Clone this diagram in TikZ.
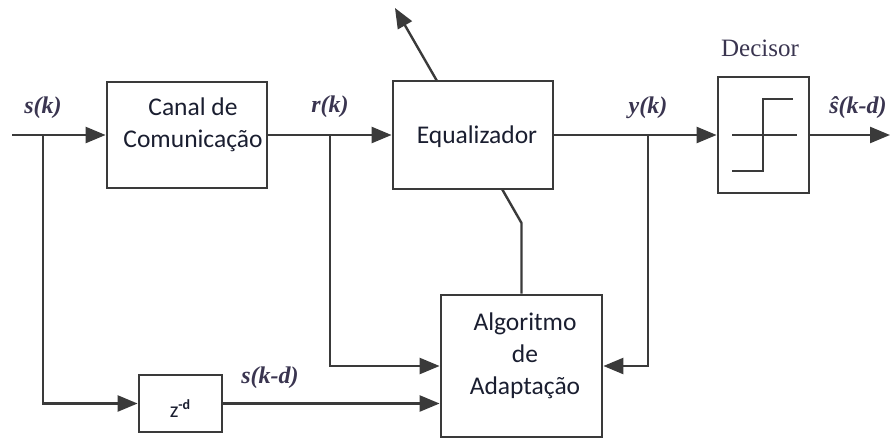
\documentclass[tikz,border=0pt]{standalone}
\usepackage{fontspec}
\setmainfont{Liberation Serif}
\newfontfamily\boxfont{Carlito}
\usetikzlibrary{arrows.meta}
\definecolor{linegray}{HTML}{3A3A3A}
\definecolor{boxtext}{HTML}{1A1E30}
\definecolor{sigtext}{HTML}{3A3550}
\begin{document}
\begin{tikzpicture}[x=1pt,y=-1pt,
  wire/.style={draw=linegray,line width=2.4pt},
  arr/.style={wire,-{Triangle[length=20pt,width=16pt]}},
  block/.style={draw=linegray,line width=2.8pt,fill=white,inner sep=0pt},
  blocktext/.style={font=\boxfont\fontsize{25.5}{32}\selectfont,text=boxtext,align=center,inner sep=0pt},
  sig/.style={font=\fontsize{24}{26}\selectfont\bfseries\itshape,text=sigtext,inner sep=0pt},
  title/.style={font=\fontsize{25}{28}\selectfont,text=sigtext,inner sep=0pt}]
\useasboundingbox (0,0) rectangle (890,439);

% blocks
\node[block,minimum width=160pt,minimum height=106pt] (canal) at (187,135) {};
\node[block,minimum width=160pt,minimum height=108pt] (eq) at (473,135) {};
\node[block,minimum width=91pt,minimum height=116pt] (dec) at (763.5,135) {};
\node[block,minimum width=161pt,minimum height=142pt] (alg) at (521.5,366) {};
\node[block,minimum width=83pt,minimum height=57pt] (zd) at (180.5,403.5) {};

% block captions
\node[blocktext] (canaltxt) at (193,125) {Canal de\\Comunicação};
\node[blocktext] (eqtxt) at (477,137) {Equalizador};
\node[blocktext] (algtxt) at (525,356) {Algoritmo\\de\\Adaptação};
\node[blocktext] (zdtxt) at (180,409)
  {\fontsize{22}{24}\selectfont z\raisebox{8pt}{\fontsize{14}{15}\selectfont\bfseries -d}};

% decision characteristic inside the decisor
\draw[wire] (732,135) -- (797,135);
\draw[wire] (732,171) -- (763,171) -- (763,99) -- (793,99);

% junction and end points
\coordinate (in) at (12,135);
\coordinate (sj) at (43,135);
\coordinate (rj) at (330,135);
\coordinate (yj) at (648,135);
\coordinate (out) at (890,135);
\coordinate (eqtip) at (395,8);
\coordinate (eqbase) at (437,81);
\coordinate (eqlow) at (502,189);
\coordinate (eqbend) at (521.5,223);

% main path
\draw[arr] (in) -- (canal.west);
\draw[arr] (canal.east) -- (eq.west);
\draw[arr] (eq.east) -- (dec.west);
\draw[arr] (dec.east) -- (out);

% branches
\draw[arr] (sj) |- (zd.west);
\draw[arr] (zd.east) -- (zd.east -| alg.west);
\draw[arr] (rj) |- (alg.west);
\draw[arr] (yj) |- (alg.east);

% adaptation link and adjustable output
\draw[wire] (eqlow) -- (eqbend) -- (alg.north);
\draw[arr] (eqbase) -- (eqtip);

% labels
\node[sig] (lsk) at (43,108) {s(k)};
\node[sig] (lrk) at (330,107) {r(k)};
\node[sig] (lyk) at (648,108) {y(k)};
\node[sig] (lshat) at (858,108) {ŝ(k-d)};
\node[sig] (lskd) at (270,378) {s(k-d)};
\node[title] (ldec) at (760,48) {Decisor};
\end{tikzpicture}
\end{document}
